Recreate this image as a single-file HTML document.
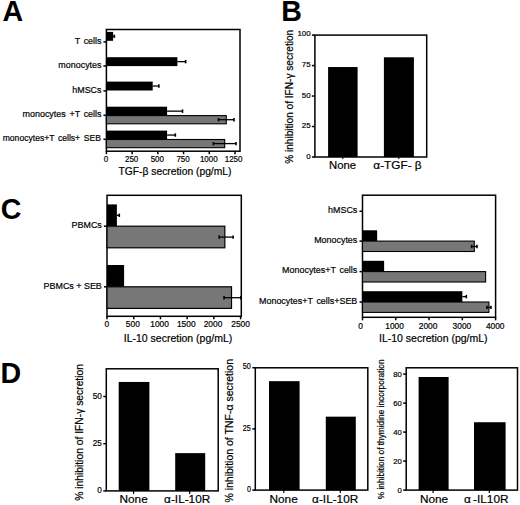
<!DOCTYPE html>
<html><head><meta charset="utf-8"><style>
html,body{margin:0;padding:0;background:#fff;width:520px;height:505px;overflow:hidden}
svg{display:block}
text{font-family:"Liberation Sans",sans-serif;fill:#000}
</style></head><body>
<svg width="520" height="505" viewBox="0 0 520 505">
<rect width="520" height="505" fill="#fff"/>
<text x="2.60" y="21.20" font-size="28.6" text-anchor="start" font-weight="bold">A</text>
<text x="281.30" y="20.50" font-size="28.6" text-anchor="start" font-weight="bold">B</text>
<text x="0.80" y="218.50" font-size="28.6" text-anchor="start" font-weight="bold">C</text>
<text x="0.40" y="383.30" font-size="28.6" text-anchor="start" font-weight="bold">D</text>
<rect x="106.4" y="29.5" width="133.60" height="121.70" fill="none" stroke="#000" stroke-width="1.5"/>
<line x1="106.40" y1="151.20" x2="106.40" y2="154.20" stroke="#000" stroke-width="1.5"/>
<text x="0.00" y="0.00" font-size="8.5" text-anchor="middle" stroke="#000" stroke-width="0.2" transform="translate(105.90 162.40) scale(0.94 1)">0</text>
<line x1="132.12" y1="151.20" x2="132.12" y2="154.20" stroke="#000" stroke-width="1.5"/>
<text x="0.00" y="0.00" font-size="8.5" text-anchor="middle" stroke="#000" stroke-width="0.2" transform="translate(131.62 162.40) scale(0.94 1)">250</text>
<line x1="157.84" y1="151.20" x2="157.84" y2="154.20" stroke="#000" stroke-width="1.5"/>
<text x="0.00" y="0.00" font-size="8.5" text-anchor="middle" stroke="#000" stroke-width="0.2" transform="translate(157.34 162.40) scale(0.94 1)">500</text>
<line x1="183.56" y1="151.20" x2="183.56" y2="154.20" stroke="#000" stroke-width="1.5"/>
<text x="0.00" y="0.00" font-size="8.5" text-anchor="middle" stroke="#000" stroke-width="0.2" transform="translate(183.06 162.40) scale(0.94 1)">750</text>
<line x1="209.28" y1="151.20" x2="209.28" y2="154.20" stroke="#000" stroke-width="1.5"/>
<text x="0.00" y="0.00" font-size="8.5" text-anchor="middle" stroke="#000" stroke-width="0.2" transform="translate(208.78 162.40) scale(0.94 1)">1000</text>
<line x1="235.00" y1="151.20" x2="235.00" y2="154.20" stroke="#000" stroke-width="1.5"/>
<text x="0.00" y="0.00" font-size="8.5" text-anchor="middle" stroke="#000" stroke-width="0.2" transform="translate(233.60 162.40) scale(0.94 1)">1250</text>
<text x="175.00" y="174.60" font-size="10.3" text-anchor="middle" stroke="#000" stroke-width="0.2">TGF-β secretion (pg/mL)</text>
<line x1="103.40" y1="41.90" x2="106.40" y2="41.90" stroke="#000" stroke-width="1.5"/>
<text x="0.00" y="0.00" font-size="9.4" text-anchor="end" stroke="#000" stroke-width="0.2" transform="translate(101.50 43.50) scale(0.95 1)" word-spacing="1.3">T cells</text>
<line x1="103.40" y1="66.00" x2="106.40" y2="66.00" stroke="#000" stroke-width="1.5"/>
<text x="0.00" y="0.00" font-size="9.4" text-anchor="end" stroke="#000" stroke-width="0.2" transform="translate(101.50 67.60) scale(0.95 1)" word-spacing="1.3">monocytes</text>
<line x1="103.40" y1="90.90" x2="106.40" y2="90.90" stroke="#000" stroke-width="1.5"/>
<text x="0.00" y="0.00" font-size="9.4" text-anchor="end" stroke="#000" stroke-width="0.2" transform="translate(101.50 92.50) scale(0.95 1)" word-spacing="1.3">hMSCs</text>
<line x1="103.40" y1="115.30" x2="106.40" y2="115.30" stroke="#000" stroke-width="1.5"/>
<text x="0.00" y="0.00" font-size="9.4" text-anchor="end" stroke="#000" stroke-width="0.2" transform="translate(101.50 116.90) scale(0.95 1)" word-spacing="1.3">monocytes +T cells</text>
<line x1="103.40" y1="139.30" x2="106.40" y2="139.30" stroke="#000" stroke-width="1.5"/>
<text x="0.00" y="0.00" font-size="9.4" text-anchor="end" stroke="#000" stroke-width="0.2" transform="translate(100.90 140.90) scale(0.915 1)" word-spacing="1.3">monocytes+T cells+ SEB</text>
<rect x="106.40" y="31.90" width="6.69" height="8.90" fill="#000"/>
<line x1="113.09" y1="36.35" x2="114.32" y2="36.35" stroke="#000" stroke-width="1.3"/>
<line x1="114.32" y1="34.65" x2="114.32" y2="38.05" stroke="#000" stroke-width="1.6"/>
<rect x="106.40" y="57.20" width="70.99" height="8.90" fill="#000"/>
<line x1="177.39" y1="61.65" x2="185.62" y2="61.65" stroke="#000" stroke-width="1.3"/>
<line x1="185.62" y1="59.95" x2="185.62" y2="63.35" stroke="#000" stroke-width="1.6"/>
<rect x="106.40" y="81.60" width="46.30" height="8.90" fill="#000"/>
<line x1="152.70" y1="86.05" x2="158.87" y2="86.05" stroke="#000" stroke-width="1.3"/>
<line x1="158.87" y1="84.35" x2="158.87" y2="87.75" stroke="#000" stroke-width="1.6"/>
<rect x="106.40" y="106.70" width="60.70" height="8.90" fill="#000"/>
<line x1="167.10" y1="111.15" x2="182.53" y2="111.15" stroke="#000" stroke-width="1.3"/>
<line x1="182.53" y1="109.45" x2="182.53" y2="112.85" stroke="#000" stroke-width="1.6"/>
<rect x="106.40" y="115.60" width="119.86" height="8.20" fill="#777777" stroke="#000" stroke-width="1.1"/>
<line x1="226.26" y1="119.70" x2="233.97" y2="119.70" stroke="#000" stroke-width="1.3"/>
<line x1="233.97" y1="118.00" x2="233.97" y2="121.40" stroke="#000" stroke-width="1.6"/>
<line x1="226.26" y1="119.70" x2="218.54" y2="119.70" stroke="#000" stroke-width="1.3"/>
<line x1="218.54" y1="118.00" x2="218.54" y2="121.40" stroke="#000" stroke-width="1.6"/>
<rect x="106.40" y="130.60" width="60.70" height="8.90" fill="#000"/>
<line x1="167.10" y1="135.05" x2="175.33" y2="135.05" stroke="#000" stroke-width="1.3"/>
<line x1="175.33" y1="133.35" x2="175.33" y2="136.75" stroke="#000" stroke-width="1.6"/>
<rect x="106.40" y="139.50" width="118.31" height="8.20" fill="#777777" stroke="#000" stroke-width="1.1"/>
<line x1="224.71" y1="143.60" x2="236.03" y2="143.60" stroke="#000" stroke-width="1.3"/>
<line x1="236.03" y1="141.90" x2="236.03" y2="145.30" stroke="#000" stroke-width="1.6"/>
<line x1="224.71" y1="143.60" x2="213.40" y2="143.60" stroke="#000" stroke-width="1.3"/>
<line x1="213.40" y1="141.90" x2="213.40" y2="145.30" stroke="#000" stroke-width="1.6"/>
<rect x="314.9" y="35.1" width="111.80" height="121.90" fill="none" stroke="#000" stroke-width="1.5"/>
<line x1="311.90" y1="157.00" x2="314.90" y2="157.00" stroke="#000" stroke-width="1.5"/>
<text x="310.60" y="158.75" font-size="7.9" text-anchor="end" stroke="#000" stroke-width="0.2">0</text>
<line x1="311.90" y1="126.53" x2="314.90" y2="126.53" stroke="#000" stroke-width="1.5"/>
<text x="310.60" y="128.28" font-size="7.9" text-anchor="end" stroke="#000" stroke-width="0.2">25</text>
<line x1="311.90" y1="96.05" x2="314.90" y2="96.05" stroke="#000" stroke-width="1.5"/>
<text x="310.60" y="97.80" font-size="7.9" text-anchor="end" stroke="#000" stroke-width="0.2">50</text>
<line x1="311.90" y1="65.58" x2="314.90" y2="65.58" stroke="#000" stroke-width="1.5"/>
<text x="310.60" y="67.33" font-size="7.9" text-anchor="end" stroke="#000" stroke-width="0.2">75</text>
<line x1="311.90" y1="35.10" x2="314.90" y2="35.10" stroke="#000" stroke-width="1.5"/>
<text x="310.60" y="35.95" font-size="7.9" text-anchor="end" stroke="#000" stroke-width="0.2">100</text>
<rect x="328.10" y="67.04" width="29.50" height="89.96" fill="#000"/>
<rect x="383.90" y="57.29" width="30.00" height="99.71" fill="#000"/>
<line x1="342.85" y1="157.00" x2="342.85" y2="159.20" stroke="#000" stroke-width="1"/>
<line x1="398.90" y1="157.00" x2="398.90" y2="159.20" stroke="#000" stroke-width="1"/>
<text x="342.60" y="169.10" font-size="11.3" text-anchor="middle" stroke="#000" stroke-width="0.2">None</text>
<text x="397.50" y="169.20" font-size="11.8" text-anchor="middle" stroke="#000" stroke-width="0.2">α-TGF- β</text>
<text x="292.80" y="96.80" font-size="10.1" text-anchor="middle" stroke="#000" stroke-width="0.2" transform="rotate(-90 292.80 96.80)">% inhibition of IFN-γ secretion</text>
<rect x="107" y="195.3" width="134.30" height="121.00" fill="none" stroke="#000" stroke-width="1.5"/>
<line x1="107.00" y1="316.30" x2="107.00" y2="319.30" stroke="#000" stroke-width="1.5"/>
<text x="106.80" y="327.30" font-size="8.4" text-anchor="middle" stroke="#000" stroke-width="0.2">0</text>
<line x1="133.72" y1="316.30" x2="133.72" y2="319.30" stroke="#000" stroke-width="1.5"/>
<text x="132.82" y="327.30" font-size="8.4" text-anchor="middle" stroke="#000" stroke-width="0.2">500</text>
<line x1="160.44" y1="316.30" x2="160.44" y2="319.30" stroke="#000" stroke-width="1.5"/>
<text x="159.54" y="327.30" font-size="8.4" text-anchor="middle" stroke="#000" stroke-width="0.2">1000</text>
<line x1="187.16" y1="316.30" x2="187.16" y2="319.30" stroke="#000" stroke-width="1.5"/>
<text x="186.26" y="327.30" font-size="8.4" text-anchor="middle" stroke="#000" stroke-width="0.2">1500</text>
<line x1="213.88" y1="316.30" x2="213.88" y2="319.30" stroke="#000" stroke-width="1.5"/>
<text x="212.98" y="327.30" font-size="8.4" text-anchor="middle" stroke="#000" stroke-width="0.2">2000</text>
<line x1="240.60" y1="316.30" x2="240.60" y2="319.30" stroke="#000" stroke-width="1.5"/>
<text x="240.60" y="327.30" font-size="8.4" text-anchor="middle" stroke="#000" stroke-width="0.2">2500</text>
<text x="178.00" y="341.50" font-size="10.5" text-anchor="middle" stroke="#000" stroke-width="0.2">IL-10 secretion (pg/mL)</text>
<line x1="104.00" y1="226.20" x2="107.00" y2="226.20" stroke="#000" stroke-width="1.5"/>
<text x="0.00" y="0.00" font-size="9.4" text-anchor="end" stroke="#000" stroke-width="0.2" transform="translate(101.80 228.00) scale(0.95 1)">PBMCs</text>
<rect x="107.00" y="204.40" width="9.89" height="21.80" fill="#000"/>
<line x1="116.89" y1="215.30" x2="119.29" y2="215.30" stroke="#000" stroke-width="1.3"/>
<line x1="119.29" y1="213.60" x2="119.29" y2="217.00" stroke="#000" stroke-width="1.6"/>
<rect x="107.00" y="226.20" width="117.84" height="21.60" fill="#777777" stroke="#000" stroke-width="1.2"/>
<line x1="224.84" y1="237.10" x2="233.12" y2="237.10" stroke="#000" stroke-width="1.3"/>
<line x1="233.12" y1="235.40" x2="233.12" y2="238.80" stroke="#000" stroke-width="1.6"/>
<line x1="224.84" y1="237.10" x2="219.22" y2="237.10" stroke="#000" stroke-width="1.3"/>
<line x1="219.22" y1="235.40" x2="219.22" y2="238.80" stroke="#000" stroke-width="1.6"/>
<line x1="104.00" y1="286.80" x2="107.00" y2="286.80" stroke="#000" stroke-width="1.5"/>
<text x="0.00" y="0.00" font-size="9.4" text-anchor="end" stroke="#000" stroke-width="0.2" transform="translate(101.80 288.60) scale(0.95 1)">PBMCs + SEB</text>
<rect x="107.00" y="265.00" width="17.10" height="21.80" fill="#000"/>
<rect x="107.00" y="286.80" width="124.52" height="21.60" fill="#777777" stroke="#000" stroke-width="1.2"/>
<line x1="231.52" y1="297.70" x2="240.87" y2="297.70" stroke="#000" stroke-width="1.3"/>
<line x1="240.87" y1="296.00" x2="240.87" y2="299.40" stroke="#000" stroke-width="1.6"/>
<line x1="231.52" y1="297.70" x2="224.03" y2="297.70" stroke="#000" stroke-width="1.3"/>
<line x1="224.03" y1="296.00" x2="224.03" y2="299.40" stroke="#000" stroke-width="1.6"/>
<rect x="362.5" y="195.2" width="133.10" height="122.10" fill="none" stroke="#000" stroke-width="1.5"/>
<line x1="362.50" y1="317.30" x2="362.50" y2="320.30" stroke="#000" stroke-width="1.5"/>
<text x="360.50" y="328.50" font-size="8.4" text-anchor="middle" stroke="#000" stroke-width="0.2">0</text>
<line x1="395.77" y1="317.30" x2="395.77" y2="320.30" stroke="#000" stroke-width="1.5"/>
<text x="394.57" y="328.50" font-size="8.4" text-anchor="middle" stroke="#000" stroke-width="0.2">1000</text>
<line x1="429.05" y1="317.30" x2="429.05" y2="320.30" stroke="#000" stroke-width="1.5"/>
<text x="428.05" y="328.50" font-size="8.4" text-anchor="middle" stroke="#000" stroke-width="0.2">2000</text>
<line x1="462.33" y1="317.30" x2="462.33" y2="320.30" stroke="#000" stroke-width="1.5"/>
<text x="461.93" y="328.50" font-size="8.4" text-anchor="middle" stroke="#000" stroke-width="0.2">3000</text>
<line x1="495.60" y1="317.30" x2="495.60" y2="320.30" stroke="#000" stroke-width="1.5"/>
<text x="495.20" y="328.50" font-size="8.4" text-anchor="middle" stroke="#000" stroke-width="0.2">4000</text>
<text x="433.30" y="341.50" font-size="10.5" text-anchor="middle" stroke="#000" stroke-width="0.2">IL-10 secretion (pg/mL)</text>
<line x1="359.50" y1="211.20" x2="362.50" y2="211.20" stroke="#000" stroke-width="1.5"/>
<text x="0.00" y="0.00" font-size="9.4" text-anchor="end" stroke="#000" stroke-width="0.2" transform="translate(357.30 213.00) scale(0.95 1)" word-spacing="1.3">hMSCs</text>
<line x1="359.50" y1="241.10" x2="362.50" y2="241.10" stroke="#000" stroke-width="1.5"/>
<text x="0.00" y="0.00" font-size="9.4" text-anchor="end" stroke="#000" stroke-width="0.2" transform="translate(357.30 242.90) scale(0.95 1)" word-spacing="1.3">Monocytes</text>
<rect x="362.50" y="230.30" width="14.64" height="10.80" fill="#000"/>
<rect x="362.50" y="241.10" width="111.80" height="10.40" fill="#777777" stroke="#000" stroke-width="1.1"/>
<line x1="474.30" y1="246.50" x2="476.97" y2="246.50" stroke="#000" stroke-width="1.3"/>
<line x1="476.97" y1="244.80" x2="476.97" y2="248.20" stroke="#000" stroke-width="1.6"/>
<line x1="474.30" y1="246.50" x2="471.64" y2="246.50" stroke="#000" stroke-width="1.3"/>
<line x1="471.64" y1="244.80" x2="471.64" y2="248.20" stroke="#000" stroke-width="1.6"/>
<line x1="359.50" y1="271.60" x2="362.50" y2="271.60" stroke="#000" stroke-width="1.5"/>
<text x="0.00" y="0.00" font-size="9.4" text-anchor="end" stroke="#000" stroke-width="0.2" transform="translate(357.30 273.40) scale(0.95 1)" word-spacing="1.3">Monocytes+T cells</text>
<rect x="362.50" y="260.80" width="21.63" height="10.80" fill="#000"/>
<rect x="362.50" y="271.60" width="123.12" height="10.40" fill="#777777" stroke="#000" stroke-width="1.1"/>
<line x1="359.50" y1="302.00" x2="362.50" y2="302.00" stroke="#000" stroke-width="1.5"/>
<text x="0.00" y="0.00" font-size="9.4" text-anchor="end" stroke="#000" stroke-width="0.2" transform="translate(357.30 303.80) scale(0.95 1)" word-spacing="1.3">Monocytes+T cells+SEB</text>
<rect x="362.50" y="291.20" width="99.83" height="10.80" fill="#000"/>
<line x1="462.33" y1="296.60" x2="466.32" y2="296.60" stroke="#000" stroke-width="1.3"/>
<line x1="466.32" y1="294.90" x2="466.32" y2="298.30" stroke="#000" stroke-width="1.6"/>
<rect x="362.50" y="302.00" width="126.45" height="10.40" fill="#777777" stroke="#000" stroke-width="1.1"/>
<line x1="488.95" y1="307.40" x2="490.94" y2="307.40" stroke="#000" stroke-width="1.3"/>
<line x1="490.94" y1="305.70" x2="490.94" y2="309.10" stroke="#000" stroke-width="1.6"/>
<line x1="488.95" y1="307.40" x2="486.95" y2="307.40" stroke="#000" stroke-width="1.3"/>
<line x1="486.95" y1="305.70" x2="486.95" y2="309.10" stroke="#000" stroke-width="1.6"/>
<rect x="106.3" y="368.8" width="111.90" height="122.10" fill="none" stroke="#000" stroke-width="1.5"/>
<line x1="103.30" y1="490.90" x2="106.30" y2="490.90" stroke="#000" stroke-width="1.5"/>
<text x="101.90" y="493.15" font-size="8.2" text-anchor="end" stroke="#000" stroke-width="0.2">0</text>
<line x1="103.30" y1="443.70" x2="106.30" y2="443.70" stroke="#000" stroke-width="1.5"/>
<text x="101.90" y="445.95" font-size="8.2" text-anchor="end" stroke="#000" stroke-width="0.2">25</text>
<line x1="103.30" y1="396.50" x2="106.30" y2="396.50" stroke="#000" stroke-width="1.5"/>
<text x="101.90" y="398.75" font-size="8.2" text-anchor="end" stroke="#000" stroke-width="0.2">50</text>
<rect x="118.70" y="381.96" width="30.70" height="108.94" fill="#000"/>
<rect x="175.20" y="453.14" width="30.00" height="37.76" fill="#000"/>
<text x="83.20" y="432.40" font-size="10.3" text-anchor="middle" stroke="#000" stroke-width="0.2" transform="rotate(-90 83.20 432.40)">% inhibition of IFN-γ secretion</text>
<line x1="133.55" y1="490.90" x2="133.55" y2="493.90" stroke="#000" stroke-width="1.2"/>
<line x1="189.70" y1="490.90" x2="189.70" y2="493.90" stroke="#000" stroke-width="1.2"/>
<text x="133.60" y="503.00" font-size="11.8" text-anchor="middle" stroke="#000" stroke-width="0.2">None</text>
<text x="187.20" y="503.00" font-size="11.8" text-anchor="middle" stroke="#000" stroke-width="0.2">α-IL-10R</text>
<rect x="255.3" y="367.8" width="112.50" height="122.30" fill="none" stroke="#000" stroke-width="1.5"/>
<line x1="252.30" y1="490.10" x2="255.30" y2="490.10" stroke="#000" stroke-width="1.5"/>
<text x="0.00" y="0.00" font-size="8.4" text-anchor="end" stroke="#000" stroke-width="0.2" transform="translate(250.90 491.85) scale(0.86 1)">0</text>
<line x1="252.30" y1="428.90" x2="255.30" y2="428.90" stroke="#000" stroke-width="1.5"/>
<text x="0.00" y="0.00" font-size="8.4" text-anchor="end" stroke="#000" stroke-width="0.2" transform="translate(250.90 430.65) scale(0.86 1)">25</text>
<line x1="252.30" y1="367.70" x2="255.30" y2="367.70" stroke="#000" stroke-width="1.5"/>
<text x="0.00" y="0.00" font-size="8.4" text-anchor="end" stroke="#000" stroke-width="0.2" transform="translate(250.90 369.45) scale(0.86 1)">50</text>
<rect x="269.00" y="381.16" width="30.60" height="108.94" fill="#000"/>
<rect x="325.80" y="416.66" width="30.00" height="73.44" fill="#000"/>
<text x="233.20" y="430.80" font-size="10.5" text-anchor="middle" stroke="#000" stroke-width="0.2" transform="rotate(-90 233.20 430.80)">% inhibition of TNF-α secretion</text>
<line x1="283.80" y1="490.10" x2="283.80" y2="493.10" stroke="#000" stroke-width="1.2"/>
<line x1="340.30" y1="490.10" x2="340.30" y2="493.10" stroke="#000" stroke-width="1.2"/>
<text x="283.60" y="503.00" font-size="11.8" text-anchor="middle" stroke="#000" stroke-width="0.2">None</text>
<text x="335.20" y="503.00" font-size="11.8" text-anchor="middle" stroke="#000" stroke-width="0.2">α-IL-10R</text>
<rect x="406.2" y="367.8" width="111.30" height="122.30" fill="none" stroke="#000" stroke-width="1.5"/>
<line x1="403.20" y1="490.10" x2="406.20" y2="490.10" stroke="#000" stroke-width="1.5"/>
<text x="401.80" y="492.80" font-size="7.7" text-anchor="end" stroke="#000" stroke-width="0.2">0</text>
<line x1="403.20" y1="461.10" x2="406.20" y2="461.10" stroke="#000" stroke-width="1.5"/>
<text x="401.80" y="463.80" font-size="7.7" text-anchor="end" stroke="#000" stroke-width="0.2">20</text>
<line x1="403.20" y1="432.10" x2="406.20" y2="432.10" stroke="#000" stroke-width="1.5"/>
<text x="401.80" y="434.80" font-size="7.7" text-anchor="end" stroke="#000" stroke-width="0.2">40</text>
<line x1="403.20" y1="403.10" x2="406.20" y2="403.10" stroke="#000" stroke-width="1.5"/>
<text x="401.80" y="405.80" font-size="7.7" text-anchor="end" stroke="#000" stroke-width="0.2">60</text>
<line x1="403.20" y1="374.10" x2="406.20" y2="374.10" stroke="#000" stroke-width="1.5"/>
<text x="401.80" y="376.80" font-size="7.7" text-anchor="end" stroke="#000" stroke-width="0.2">80</text>
<rect x="418.60" y="377.00" width="30.00" height="113.10" fill="#000"/>
<rect x="474.00" y="422.24" width="31.60" height="67.86" fill="#000"/>
<text x="383.60" y="429.30" font-size="8.3" text-anchor="middle" stroke="#000" stroke-width="0.2" transform="rotate(-90 383.60 429.30)">% inhibition of thymidine incorporation</text>
<line x1="433.10" y1="490.10" x2="433.10" y2="493.10" stroke="#000" stroke-width="1.2"/>
<line x1="489.30" y1="490.10" x2="489.30" y2="493.10" stroke="#000" stroke-width="1.2"/>
<text x="434.00" y="502.60" font-size="11.8" text-anchor="middle" stroke="#000" stroke-width="0.2">None</text>
<text x="486.20" y="502.60" font-size="11.8" text-anchor="middle" stroke="#000" stroke-width="0.2">α&#8201;-IL10R</text>
</svg>
</body></html>
